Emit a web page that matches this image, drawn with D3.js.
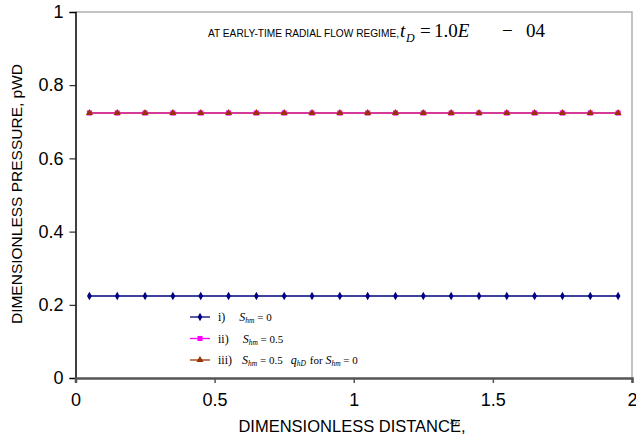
<!DOCTYPE html>
<html>
<head>
<meta charset="utf-8">
<script src="https://cdnjs.cloudflare.com/ajax/libs/d3/7.8.5/d3.min.js"></script>
<style>
  body { margin: 0; background: #fff; }
  svg { display: block; font-family: "Liberation Sans", Arial, sans-serif; }
</style>
</head>
<body>
<div id="chart"></div>
<script>
// chart data
const xD = [0.05, 0.15, 0.25, 0.35, 0.45, 0.55, 0.65, 0.75, 0.85, 0.95,
            1.05, 1.15, 1.25, 1.35, 1.45, 1.55, 1.65, 1.75, 1.85, 1.95];
const pwdShm0 = [0.224, 0.224, 0.224, 0.224, 0.224, 0.224, 0.224, 0.224, 0.224, 0.224,
                 0.224, 0.224, 0.224, 0.224, 0.224, 0.224, 0.224, 0.224, 0.224, 0.224];   // i) S_hm = 0
const pwdShm05 = [0.724, 0.724, 0.724, 0.724, 0.724, 0.724, 0.724, 0.724, 0.724, 0.724,
                  0.724, 0.724, 0.724, 0.724, 0.724, 0.724, 0.724, 0.724, 0.724, 0.724];  // ii) S_hm = 0.5
const pwdShm05q = [0.724, 0.724, 0.724, 0.724, 0.724, 0.724, 0.724, 0.724, 0.724, 0.724,
                   0.724, 0.724, 0.724, 0.724, 0.724, 0.724, 0.724, 0.724, 0.724, 0.724]; // iii)
const xTicks = [0, 0.5, 1, 1.5, 2];
const yTicks = [0, 0.2, 0.4, 0.6, 0.8, 1];

const width = 636, height = 441;
const margin = { top: 12, right: 4, bottom: 63, left: 75.5 };

const svg = d3.select("#chart").append("svg")
    .attr("width", width)
    .attr("height", height);

const x = d3.scaleLinear().domain([0, 2]).range([margin.left, width - margin.right]);
const y = d3.scaleLinear().domain([0, 1]).range([height - margin.bottom, margin.top]);

const serif = "Liberation Serif, Times New Roman, serif";

// plot frame (top + right borders in gray)
svg.append("path")
    .attr("d", `M${x(0)},${y(1)}H${x(2)}V${y(0)}`)
    .attr("fill", "none")
    .attr("stroke", "#b0b0b0")
    .attr("stroke-width", 1.5);

// y axis
const yAxis = svg.append("g")
    .attr("transform", `translate(${x(0)},0)`)
    .call(d3.axisLeft(y).tickValues(yTicks).tickSize(6).tickFormat(d3.format("~g")));
yAxis.select(".domain").attr("stroke", "#000").attr("stroke-width", 1.5);
yAxis.selectAll(".tick line").attr("stroke", "#000");
yAxis.selectAll(".tick text")
    .attr("font-size", 18)
    .attr("font-family", "Liberation Sans, Arial, sans-serif")
    .attr("x", -12)
    .attr("fill", "#000");

// x axis
const xAxis = svg.append("g")
    .attr("transform", `translate(0,${y(0)})`)
    .call(d3.axisBottom(x).tickValues(xTicks).tickSize(5).tickFormat(d3.format("~g")));
xAxis.select(".domain").attr("stroke", "#555").attr("stroke-width", 2.5);
xAxis.selectAll(".tick line").attr("stroke", "#555").attr("stroke-width", 1.5);
xAxis.selectAll(".tick text")
    .attr("font-size", 18)
    .attr("font-family", "Liberation Sans, Arial, sans-serif")
    .attr("y", 15)
    .attr("fill", "#000");

// axis titles
svg.append("text")
    .attr("transform", `translate(22,194) rotate(-90)`)
    .attr("text-anchor", "middle")
    .attr("font-size", 15.5)
    .text("DIMENSIONLESS PRESSURE, pWD");

svg.append("text")
    .attr("x", 352)
    .attr("y", 432)
    .attr("text-anchor", "middle")
    .attr("font-size", 16.5)
    .text("DIMENSIONLESS DISTANCE,");
// stray x_D label overlapping the end of the title
const xdLbl = svg.append("text")
    .attr("x", 450)
    .attr("y", 424)
    .attr("font-family", serif)
    .attr("font-style", "italic")
    .attr("font-size", 10);
xdLbl.append("tspan").text("x");
xdLbl.append("tspan").attr("font-size", 7).attr("dy", 2).text("D");

// annotation
svg.append("text")
    .attr("x", 208)
    .attr("y", 37)
    .attr("font-size", 11)
    .attr("textLength", 191)
    .attr("lengthAdjust", "spacingAndGlyphs")
    .text("AT EARLY-TIME RADIAL FLOW REGIME,");
const eq = svg.append("text")
    .attr("y", 37)
    .attr("font-family", serif)
    .attr("font-size", 19);
eq.append("tspan").attr("x", 400).attr("font-style", "italic").text("t");
eq.append("tspan").attr("x", 406).attr("dy", 5).attr("font-style", "italic").attr("font-size", 12).text("D");
eq.append("tspan").attr("x", 420).attr("dy", -5).text("=");
eq.append("tspan").attr("x", 434).text("1.0");
eq.append("tspan").attr("font-style", "italic").text("E");
eq.append("tspan").attr("x", 502).text("\u2212");
eq.append("tspan").attr("x", 526).text("04");

// series
const series = [
    { values: pwdShm05, color: "#ff00ff", symbol: d3.symbolSquare, size: 26 },
    { values: pwdShm05q, color: "#993300", symbol: d3.symbolTriangle, size: 22, lineOpacity: 0.55 },
    { values: pwdShm0, color: "#000080", symbol: d3.symbolDiamond, size: 20 }
];

const line = d3.line().x((d, i) => x(xD[i])).y(d => y(d));

series.forEach(s => {
    svg.append("path")
        .datum(s.values)
        .attr("fill", "none")
        .attr("stroke", s.color)
        .attr("stroke-opacity", s.lineOpacity || 1)
        .attr("stroke-width", 1.3)
        .attr("d", line);
    svg.append("g").selectAll("path")
        .data(s.values)
        .join("path")
        .attr("transform", (d, i) => `translate(${x(xD[i])},${y(d)})`)
        .attr("d", d3.symbol().type(s.symbol).size(s.size))
        .attr("fill", s.color);
});

// legend
const legendItems = [
    { color: "#000080", symbol: d3.symbolDiamond, size: 20, num: "i)", after: " = 0", q: false },
    { color: "#ff00ff", symbol: d3.symbolSquare, size: 26, num: "ii)", after: " = 0.5", q: false },
    { color: "#993300", symbol: d3.symbolTriangle, size: 22, num: "iii)", after: " = 0.5", q: true }
];

const legend = svg.append("g").attr("transform", "translate(190,317)");
legendItems.forEach((it, i) => {
    const g = legend.append("g").attr("transform", `translate(0,${i * 21.5})`);
    g.append("line").attr("x1", 0).attr("x2", 20).attr("stroke", it.color).attr("stroke-width", 1.3);
    g.append("path").attr("transform", "translate(10,0)")
        .attr("d", d3.symbol().type(it.symbol).size(it.size)).attr("fill", it.color);
    const t = g.append("text")
        .attr("x", 28)
        .attr("y", 4)
        .attr("font-family", serif)
        .attr("font-size", 12);
    t.append("tspan").text(it.num);
    t.append("tspan").attr("dx", i === 2 ? 10 : 14).attr("font-style", "italic").text("S");
    t.append("tspan").attr("font-style", "italic").attr("font-size", 7.5).attr("dy", 2).text("hm");
    t.append("tspan").attr("dy", -2).attr("font-size", 11).text(it.after);
    if (it.q) {
        t.append("tspan").attr("dx", 8).attr("font-style", "italic").text("q");
        t.append("tspan").attr("font-style", "italic").attr("font-size", 7.5).attr("dy", 2).text("hD");
        t.append("tspan").attr("dy", -2).attr("dx", 4).attr("font-size", 11).text("for ");
        t.append("tspan").attr("font-style", "italic").text("S");
        t.append("tspan").attr("font-style", "italic").attr("font-size", 7.5).attr("dy", 2).text("hm");
        t.append("tspan").attr("dy", -2).attr("font-size", 11).text(" = 0");
    }
});
</script>
</body>
</html>
